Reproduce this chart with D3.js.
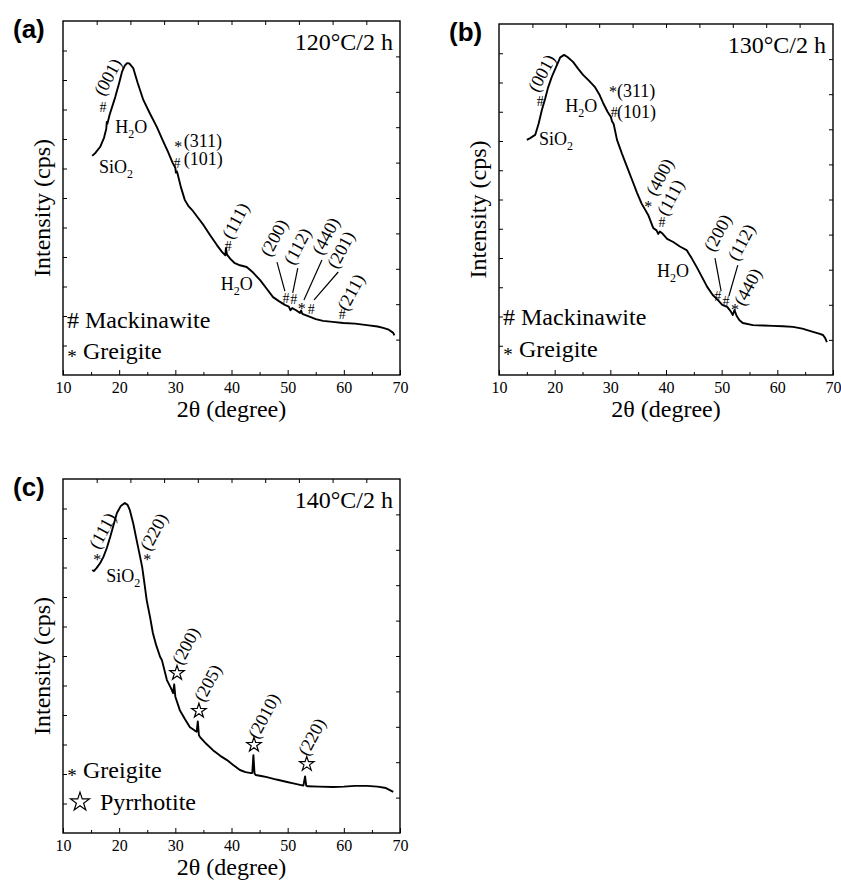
<!DOCTYPE html>
<html lang="en">
<head>
<meta charset="UTF-8">
<title>XRD patterns</title>
<script src="https://cdn.jsdelivr.net/npm/d3@7"></script>
<style>
  body { margin: 0; background: #fff; }
</style>
</head>
<body>
<svg width="841" height="883"></svg>
<script>
// 2θ (degree) vs intensity (arbitrary units)
const twoTheta120 = [15.2,15.8,16.6,17.3,17.7,17.8,17.9,18.3,19.3,20.0,20.5,21.0,21.4,21.8,22.5,23.3,24.3,25.5,26.7,27.7,28.7,29.5,30.0,30.1,30.3,31.0,31.7,32.3,33.0,34.0,35.0,36.2,37.4,38.3,38.9,39.0,39.2,39.8,40.5,41.5,42.7,43.8,45.1,46.3,47.4,48.5,49.5,50.2,50.5,50.8,51.5,52.2,52.4,52.6,54.0,55.0,56.3,58.0,59.9,62.0,64.1,66.0,67.0,68.0,68.8,69.0];
const intensity120 = [61.9,62.8,64.4,67.0,69.5,71.5,71.0,73.5,78.5,82.5,85.6,87.4,88.1,88.0,86.7,82.5,77.7,73.8,70.1,66.5,63.0,60.0,58.5,57.2,57.5,53.0,49.4,47.8,46.6,44.5,42.4,39.5,36.7,34.8,33.8,35.8,34.0,32.8,31.7,31.0,30.5,29.0,26.8,24.3,22.0,20.8,19.8,19.3,18.3,18.9,18.3,17.5,18.2,17.3,16.4,15.8,15.3,15.0,14.7,14.5,14.1,13.7,13.3,12.8,11.9,11.2];

const twoTheta130 = [15.0,15.6,16.5,17.1,17.7,18.3,18.8,19.5,20.4,21.0,21.7,22.3,23.3,24.2,25.1,26.2,27.2,28.0,28.7,29.5,30.1,30.3,30.6,31.2,32.1,33.0,34.0,34.8,35.6,36.8,37.7,38.3,38.6,38.9,39.3,40.2,41.3,42.5,43.7,44.6,45.5,46.5,47.4,48.4,49.3,50.1,51.0,51.6,52.0,52.3,52.7,53.2,53.8,55.6,57.5,59.2,61.0,62.8,64.5,66.4,67.5,68.2,68.6,68.9];
const intensity130 = [67.0,67.5,68.4,71.5,75.5,78.8,81.8,85.0,88.3,90.5,91.2,90.6,89.2,87.3,85.5,83.8,82.1,80.0,77.5,75.0,73.5,72.3,71.5,67.0,63.0,59.3,55.2,51.9,48.9,45.6,41.9,41.2,40.2,40.9,40.4,38.8,37.9,36.6,35.6,33.3,30.8,27.8,25.1,22.8,21.4,20.0,19.4,18.2,17.1,18.5,16.8,15.6,14.8,14.2,14.1,14.0,13.9,13.7,13.2,12.3,11.8,11.4,10.5,9.4];

const twoTheta140 = [15.2,15.5,16.0,16.6,17.2,17.8,18.4,19.0,19.6,20.3,21.0,21.5,21.9,22.5,23.1,23.6,24.1,24.5,24.9,25.5,26.0,26.6,27.3,27.6,28.5,29.2,29.6,29.8,30.0,30.8,31.7,32.6,33.4,33.8,34.0,34.2,34.4,35.5,36.7,38.0,39.2,40.3,41.5,42.5,43.5,43.7,43.9,44.1,44.3,45.3,46.3,48.0,49.9,51.0,52.2,52.8,53.1,53.3,53.6,55.5,58.1,60.0,62.0,64.1,66.0,67.5,68.8];
const intensity140 = [74.3,74.0,74.9,76.2,78.0,80.5,83.6,87.0,90.4,92.4,93.2,92.7,91.2,87.5,82.8,79.0,75.1,70.5,65.8,61.0,56.5,53.0,49.7,48.9,43.2,41.0,39.5,42.0,38.5,34.7,32.2,29.9,29.0,28.6,31.5,27.6,27.1,25.2,23.4,21.8,20.6,19.2,17.8,17.2,16.9,17.0,22.0,16.8,16.4,16.1,15.8,15.1,14.4,14.0,13.6,13.4,16.0,13.4,13.2,13.1,13.0,13.1,13.3,13.3,13.1,12.7,11.6];

const xTicks = [10, 20, 30, 40, 50, 60, 70];
const xMinorTicks = [15, 25, 35, 45, 55, 65];
const panelTags = ["(a)", "(b)", "(c)"];
const conditions = ["120°C/2 h", "130°C/2 h", "140°C/2 h"];

// peak labels: text, 2θ, intensity, rotated
const labels120 = [
  ["(001)", 17.3, 78.5, true], ["H2O", 19.3, 68.4, false], ["SiO2", 16.4, 57.1, false],
  ["(311)", 31.5, 64.4, false], ["(101)", 31.5, 59.3, false], ["(111)", 40.1, 38.1, true],
  ["H2O", 38.1, 24.0, false], ["(200)", 46.9, 33.1, true], ["(112)", 51.1, 30.8, true],
  ["(440)", 56.1, 33.6, true], ["(201)", 58.8, 29.7, true], ["(211)", 60.6, 17.8, true]
];
const marks120 = [["#", 17.1, 75.7], ["*", 30.5, 65.0], ["#", 30.3, 59.9], ["#", 39.4, 36.4],
  ["#", 49.7, 21.8], ["#", 51.1, 21.5], ["*", 52.5, 19.2], ["#", 54.2, 18.6], ["#", 59.7, 17.2]];
const leaders120 = [[49.5, 23.7, 48.1, 31.9], [50.9, 23.2, 51.8, 30.2], [52.9, 21.2, 56.1, 32.5], [54.7, 21.2, 59.0, 29.1]];

const labels130 = [
  ["(001)", 17.0, 80.3, true], ["H2O", 21.9, 74.9, false], ["SiO2", 17.2, 65.5, false],
  ["(311)", 31.2, 79.2, false], ["(101)", 31.2, 73.2, false], ["(400)", 38.2, 50.7, true],
  ["(111)", 40.2, 45.0, true], ["H2O", 38.4, 27.9, false], ["(200)", 48.6, 34.8, true],
  ["(112)", 52.9, 32.2, true], ["(440)", 54.0, 19.4, true]
];
const marks130 = [["#", 17.4, 78.1], ["*", 30.5, 81.2], ["#", 30.7, 74.9], ["*", 36.8, 48.4],
  ["#", 39.3, 43.6], ["#", 49.3, 22.5], ["#", 50.8, 21.1], ["*", 52.4, 19.1]];
const leaders130 = [[49.9, 23.9, 48.8, 33.3], [51.3, 22.5, 52.9, 31.3]];

const labels140 = [
  ["(111)", 16.4, 79.9, true], ["(220)", 25.5, 79.4, true], ["SiO2", 17.7, 70.9, false],
  ["(200)", 31.2, 47.2, true], ["(205)", 35.1, 36.7, true], ["(2010)", 44.7, 26.3, true],
  ["(220)", 53.6, 21.5, true]
];
const marks140 = [["*", 16.1, 77.7], ["*", 25.0, 77.7], ["☆", 30.3, 45.2], ["☆", 34.2, 34.5],
  ["☆", 44.0, 24.9], ["☆", 53.4, 19.5]];
const leaders140 = [];

const legend120 = [["#", "Mackinawite"], ["*", "Greigite"]];
const legend140 = [["*", "Greigite"], ["☆", "Pyrrhotite"]];

const SERIF = '"Liberation Serif", "Times New Roman", serif';
const SANS = '"Liberation Sans", Arial, sans-serif';
const svg = d3.select("svg");

function txt(g, size) {
  return g.append("text").style("font-family", SERIF).attr("font-size", size).attr("fill", "#000");
}

function writeLabel(t, str) {
  if (str.startsWith("(")) { t.text(str); return; }
  // chemical formula: digits as subscripts
  const parts = str.match(/\d+|\D+/g);
  let down = false;
  parts.forEach(p => {
    const s = t.append("tspan").text(p);
    if (/\d/.test(p)) { s.attr("font-size", 12).attr("dy", 5); down = true; }
    else if (down) { s.attr("dy", -5); down = false; }
  });
}

function drawMark(g, sym, px, py, size) {
  if (sym === "☆") {
    g.append("path")
      .attr("d", d3.symbol(d3.symbolStar, size))
      .attr("transform", `translate(${px},${py})`)
      .attr("fill", "#fff").attr("stroke", "#000").attr("stroke-width", 1.2);
  } else if (sym === "*") {
    txt(g, 16).attr("x", px).attr("y", py + 7).attr("text-anchor", "middle").text("*");
  } else {
    txt(g, 14).attr("x", px).attr("y", py + 5).attr("text-anchor", "middle").text(sym);
  }
}

function Panel(box, theta, counts, tag, cond, labels, marks, leaders, legend) {
  const g = svg.append("g");
  const x = d3.scaleLinear().domain([10, 70]).range([box.left, box.right]);
  const y = d3.scaleLinear().domain([0, 100]).range([box.bottom, box.top]);
  const xTop = d3.scaleLinear().domain([0, 10]).range([box.left, box.right]);
  const yRight = d3.scaleLinear().domain([0, 10]).range([box.bottom, box.top]);
  const yLeft = d3.scaleLinear().domain([0, 12]).range([box.bottom, box.top]);

  const clean = a => a.call(s => s.select(".domain").remove());

  g.append("g").attr("transform", `translate(0,${box.bottom})`)
    .call(d3.axisBottom(x).tickValues(xTicks).tickSize(-5).tickPadding(7).tickFormat(d3.format("d")))
    .call(clean)
    .call(a => a.selectAll("text").style("font-family", SERIF).attr("font-size", 16));
  g.append("g").attr("transform", `translate(0,${box.bottom})`)
    .call(d3.axisBottom(x).tickValues(xMinorTicks).tickSize(-3).tickFormat(""))
    .call(clean);
  g.append("g").attr("transform", `translate(0,${box.top})`)
    .call(d3.axisTop(xTop).tickValues(d3.range(1, 10)).tickSize(-4).tickFormat(""))
    .call(clean);
  g.append("g").attr("transform", `translate(${box.left},0)`)
    .call(d3.axisLeft(yLeft).tickValues(d3.range(1, 12)).tickSize(-4).tickFormat(""))
    .call(clean);
  g.append("g").attr("transform", `translate(${box.right},0)`)
    .call(d3.axisRight(yRight).tickValues(d3.range(1, 10)).tickSize(-4).tickFormat(""))
    .call(clean);

  g.append("rect")
    .attr("x", box.left).attr("y", box.top)
    .attr("width", box.right - box.left).attr("height", box.bottom - box.top)
    .attr("fill", "none").attr("stroke", "#000").attr("stroke-width", 1.4);

  const line = d3.line().x(d => x(d[0])).y(d => y(d[1]));
  g.append("path")
    .datum(d3.zip(theta, counts))
    .attr("d", line)
    .attr("fill", "none").attr("stroke", "#000").attr("stroke-width", 1.9)
    .attr("stroke-linejoin", "round");

  leaders.forEach(l => {
    g.append("line")
      .attr("x1", x(l[0])).attr("y1", y(l[1])).attr("x2", x(l[2])).attr("y2", y(l[3]))
      .attr("stroke", "#000").attr("stroke-width", 1.2);
  });

  marks.forEach(m => drawMark(g, m[0], x(m[1]), y(m[2]), 65));

  labels.forEach(l => {
    const t = txt(g, 18);
    if (l[3]) t.attr("transform", `translate(${x(l[1])},${y(l[2])}) rotate(-62)`);
    else t.attr("x", x(l[1])).attr("y", y(l[2]));
    writeLabel(t, l[0]);
  });

  // legend
  legend.forEach((e, i) => {
    const by = box.bottom - box.legendY[i];
    if (e[0] === "#") {
      txt(g, 24).attr("x", box.left + 4).attr("y", by).text("# " + e[1]);
    } else if (e[0] === "*") {
      txt(g, 19).attr("x", box.left + 9).attr("y", by + 4).attr("text-anchor", "middle").text("*");
      txt(g, 24).attr("x", box.left + 20).attr("y", by).text(e[1]);
    } else {
      drawMark(g, "☆", box.left + 17, by - 8, 110);
      txt(g, 24).attr("x", box.left + 37).attr("y", by).text(e[1]);
    }
  });

  g.append("text").attr("x", box.left - 50).attr("y", box.top + 17)
    .style("font-family", SANS)
    .attr("font-weight", "bold").attr("font-size", 26).text(tag);

  txt(g, 24).attr("x", box.right - 7).attr("y", box.top + 29)
    .attr("text-anchor", "end").text(cond);

  txt(g, 24)
    .attr("transform", `translate(${box.left - 13},${(box.top + box.bottom) / 2 + 10}) rotate(-90)`)
    .attr("text-anchor", "middle").text("Intensity (cps)");

  txt(g, 24).attr("x", (box.left + box.right) / 2).attr("y", box.bottom + 42)
    .attr("text-anchor", "middle").text("2θ (degree)");
}

Panel({left: 63, top: 21, right: 400, bottom: 375, legendY: [47, 16]},
  twoTheta120, intensity120, panelTags[0], conditions[0], labels120, marks120, leaders120, legend120);
Panel({left: 499, top: 24, right: 833, bottom: 375, legendY: [50, 18]},
  twoTheta130, intensity130, panelTags[1], conditions[1], labels130, marks130, leaders130, legend120);
Panel({left: 63, top: 479, right: 400, bottom: 833, legendY: [55, 23]},
  twoTheta140, intensity140, panelTags[2], conditions[2], labels140, marks140, leaders140, legend140);
</script>
</body>
</html>
